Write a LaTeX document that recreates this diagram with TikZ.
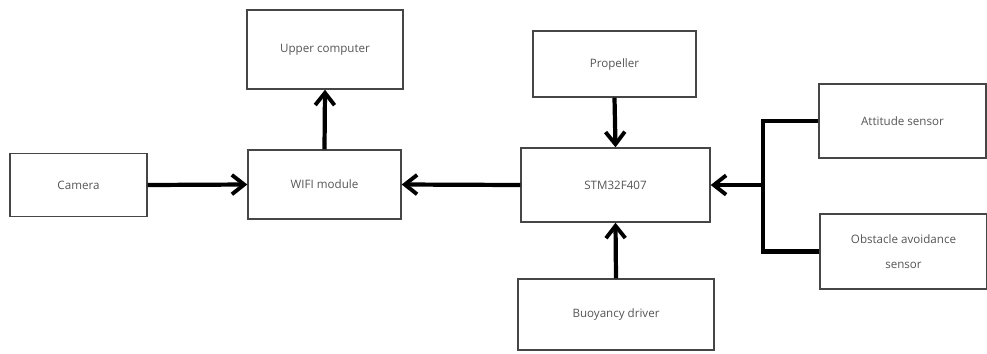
\documentclass[tikz,border=0pt]{standalone}
\usepackage{fontspec}
\setmainfont{Open Sans}
\definecolor{boxgray}{RGB}{70, 70, 70}
\definecolor{textgray}{RGB}{85, 85, 85}
\usepackage{tikz}
\usetikzlibrary{arrows.meta, positioning, calc}

\begin{document}
\begin{tikzpicture}[
  x=0.02cm, y=-0.02cm,
  blk/.style={draw=boxgray, line width=0.8pt, fill=white, align=center, font=\fontsize{6.6}{14}\selectfont, text=textgray, inner sep=2pt},
  link/.style={line width=2.4pt, -{Straight Barb[length=7pt, width=11pt, line width=2.2pt]}}
]
  \useasboundingbox (0,0) rectangle (987,353);

  \node[blk, minimum width=2.74cm, minimum height=1.26cm] (cam) at (78.5, 185) {Camera};
  \node[blk, minimum width=3.06cm, minimum height=1.38cm] (wifi) at (324.5, 184.5) {WIFI module};
  \node[blk, minimum width=3.12cm, minimum height=1.58cm] (upper) at (325, 49.5) {Upper computer};
  \node[blk, minimum width=3.26cm, minimum height=1.32cm] (prop) at (614.5, 64) {Propeller};
  \node[blk, minimum width=3.78cm, minimum height=1.48cm] (stm) at (615.5, 185) {STM32F407};
  \node[blk, minimum width=3.92cm, minimum height=1.42cm] (buoy) at (616, 314.5) {Buoyancy driver};
  \node[blk, minimum width=3.34cm, minimum height=1.48cm] (att) at (902.5, 121) {Attitude sensor};
  \node[blk, minimum width=3.34cm, minimum height=1.50cm] (obs) at (903.5, 251.5) {Obstacle avoidance\\sensor};

  \coordinate (jn) at (763, 185);

  \draw[link] (cam.east) -- (wifi.west);
  \draw[link] (stm.west) -- (wifi.east);
  \draw[link] (wifi.north) -- (upper.south);
  \draw[link] (prop.south) -- (stm.north);
  \draw[link] (buoy.north) -- (stm.south);
  \draw[line width=2.4pt] (att.west) -| (jn) |- (obs.west);
  \draw[link] (jn) -- (stm.east);
\end{tikzpicture}
\end{document}
